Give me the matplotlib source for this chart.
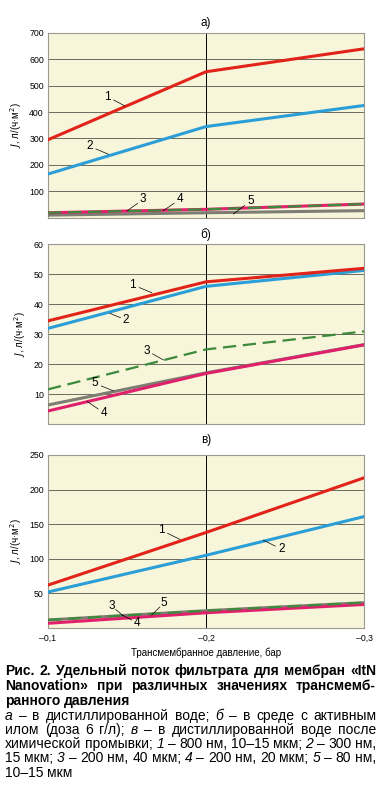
import numpy as np
import matplotlib
matplotlib.use('Agg')
import matplotlib.pyplot as plt

plt.rcParams['font.family'] = ['Liberation Sans', 'DejaVu Sans']

# pressure points (bar)
p = [-0.1, -0.2, -0.3]

# a) distilled water
a_vals = {
    1: [295, 553, 640],
    2: [165, 345, 425],
    3: [18, 31, 51],
    4: [18, 31, 51],
    5: [9, 18, 26],
}
# b) activated sludge
b_vals = {
    1: [34.5, 47.5, 52.0],
    2: [32.0, 46.0, 51.3],
    3: [11.7, 25.0, 31.0],
    4: [4.5, 17.0, 26.5],
    5: [6.5, 17.2, 26.6],
}
# c) distilled water after chemical cleaning
c_vals = {
    1: [62, 138, 217],
    2: [52, 105, 161],
    3: [11.6, 25, 36.6],
    4: [6.8, 22, 34],
    5: [11.6, 25, 36.6],
}

a_ticks = [100, 200, 300, 400, 500, 600, 700]
b_ticks = [10, 20, 30, 40, 50, 60]
c_ticks = [50, 100, 150, 200, 250]
x_ticklabels = ['\u20130,1', '\u20130,2', '\u20130,3']

# curve labels: (text x, text y, leader end x, leader end y)
a_labels = {
    '1': (-0.1378, 458, -0.1487, 423),
    '2': (-0.1261, 271, -0.1382, 240),
    '3': (-0.1603, 69, -0.150, 25),
    '4': (-0.1835, 69, -0.173, 26),
    '5': (-0.2283, 63, -0.2173, 13),
}
b_labels = {
    '1': (-0.1536, 46.5, -0.1656, 43.9),
    '2': (-0.1494, 34.8, -0.1392, 37.0),
    '3': (-0.1625, 24.6, -0.173, 21.5),
    '5': (-0.1297, 13.7, -0.1413, 11.2),
    '4': (-0.1354, 3.9, -0.1249, 7.6),
}
c_labels = {
    '1': (-0.1715, 141.6, -0.1835, 128),
    '2': (-0.2479, 113.7, -0.2363, 127),
    '3': (-0.1403, 31.8, -0.1477, 17.3),
    '5': (-0.1736, 36.6, -0.1656, 18.8),
    '4': (-0.1561, 7.7, -0.147, 18.8),
}

red = '#e2231a'
blue = '#2b9ed8'
green = '#3c8a3c'
pink = '#e0206a'
grey = '#7d7d74'
bg = '#f7f5da'

W, H = 382, 801
fig = plt.figure(figsize=(W / 100, H / 100), dpi=100)


def make_ax(top, bottom):
    ax = fig.add_axes([48 / W, 1 - bottom / H, 316 / W, (bottom - top) / H])
    ax.set_facecolor(bg)
    for s in ax.spines.values():
        s.set_color('#9a9a90')
        s.set_linewidth(0.8)
    return ax


def draw(ax, vals, order):
    for k in order:
        v = vals[k]
        if k == 1:
            ax.plot(p, v, color=red, lw=2.2, zorder=5)
        elif k == 2:
            ax.plot(p, v, color=blue, lw=2.2, zorder=5)
        elif k == 3:
            ax.plot(p, v, color=green, lw=1.6, ls=(0, (6, 3)), zorder=6)
        elif k == 4:
            ax.plot(p, v, color=pink, lw=2.2, zorder=4)
        elif k == 5:
            ax.plot(p, v, color=grey, lw=2.2, zorder=3)


def labels(ax, lab):
    for t, (tx, ty, ex, ey) in lab.items():
        ax.text(tx, ty, t, fontsize=8.5, ha='center', va='center', zorder=8)
        ax.plot([tx + (ex - tx) * 0.35, ex], [ty + (ey - ty) * 0.35, ey],
                color='black', lw=0.5, zorder=8)


def style(ax, ticks, ymax):
    ax.set_xlim(-0.1, -0.3)
    ax.set_ylim(0, ymax)
    ax.set_yticks(ticks)
    ax.set_yticklabels([str(t) for t in ticks], fontsize=6.3)
    ax.set_xticks([-0.1, -0.2, -0.3])
    ax.tick_params(length=0, pad=3)
    for t in ticks:
        ax.axhline(t, color='#55554a', lw=0.6, zorder=1)
    ax.axvline(-0.2, color='black', lw=0.7, zorder=1)
    ax.set_ylabel('$J$, л/(ч·м$^2$)', fontsize=7, labelpad=4)


ax_a = make_ax(33, 217.5)
draw(ax_a, a_vals, [5, 4, 3, 2, 1])
style(ax_a, a_ticks, 700)
ax_a.set_xticklabels([])
labels(ax_a, a_labels)

ax_b = make_ax(244.3, 424.5)
draw(ax_b, b_vals, [5, 4, 3, 2, 1])
style(ax_b, b_ticks, 60)
ax_b.set_xticklabels([])
labels(ax_b, b_labels)

ax_c = make_ax(455, 628)
draw(ax_c, c_vals, [4, 5, 3, 2, 1])
style(ax_c, c_ticks, 250)
ax_c.set_xticklabels(x_ticklabels, fontsize=6.3)
ax_c.tick_params(axis='x', pad=4)
labels(ax_c, c_labels)

fig.text(206 / W, 1 - 653 / H, 'Трансмембранное давление, бар', fontsize=7,
         ha='center', va='center')

for txt, y in [('а)', 23), ('б)', 235), ('в)', 440)]:
    fig.text(206 / W, 1 - y / H, txt, fontsize=8.5, ha='center', va='center')

# caption, justified line by line; words starting with '*' are italic
cap_lines = [
    ('Рис. 2. Удельный поток фильтрата для мембран «ItN', 'bold', True),
    ('Nanovation» при различных значениях трансмемб-', 'bold', True),
    ('ранного давления', 'bold', False),
    ('*а – в дистиллированной воде; *б – в среде с активным', 'normal', True),
    ('илом (доза 6 г/л); *в – в дистиллированной воде после', 'normal', True),
    ('химической промывки; *1 – 800 нм, 10–15 мкм; *2 – 300 нм,', 'normal', True),
    ('15 мкм; *3 – 200 нм, 40 мкм; *4 – 200 нм, 20 мкм; *5 – 80 нм,', 'normal', True),
    ('10–15 мкм', 'normal', False),
]
cap_y = [671, 686, 700.5, 716, 730, 744, 758.5, 773]
cap_fs = 10
x0, x1 = 5, 376
renderer = fig.canvas.get_renderer()
space = fig.text(0, 0, 'a a', fontsize=cap_fs)
sp_w = space.get_window_extent(renderer).width
space.set_text('aa')
sp_w -= space.get_window_extent(renderer).width
space.remove()
for (line, weight, just), y in zip(cap_lines, cap_y):
    words = line.split(' ')
    objs = []
    for w in words:
        ital = w.startswith('*')
        w = w.lstrip('*')
        t = fig.text(0, 1 - y / H, w, fontsize=cap_fs, fontweight=weight,
                     fontstyle='italic' if ital else 'normal', va='center')
        objs.append(t)
    widths = [o.get_window_extent(renderer).width for o in objs]
    if just and len(objs) > 1:
        gap = (x1 - x0 - sum(widths)) / (len(objs) - 1)
    else:
        gap = sp_w
    x = x0
    for o, wd in zip(objs, widths):
        o.set_x(x / W)
        x += wd + gap

fig.savefig('out.png', dpi=100)
